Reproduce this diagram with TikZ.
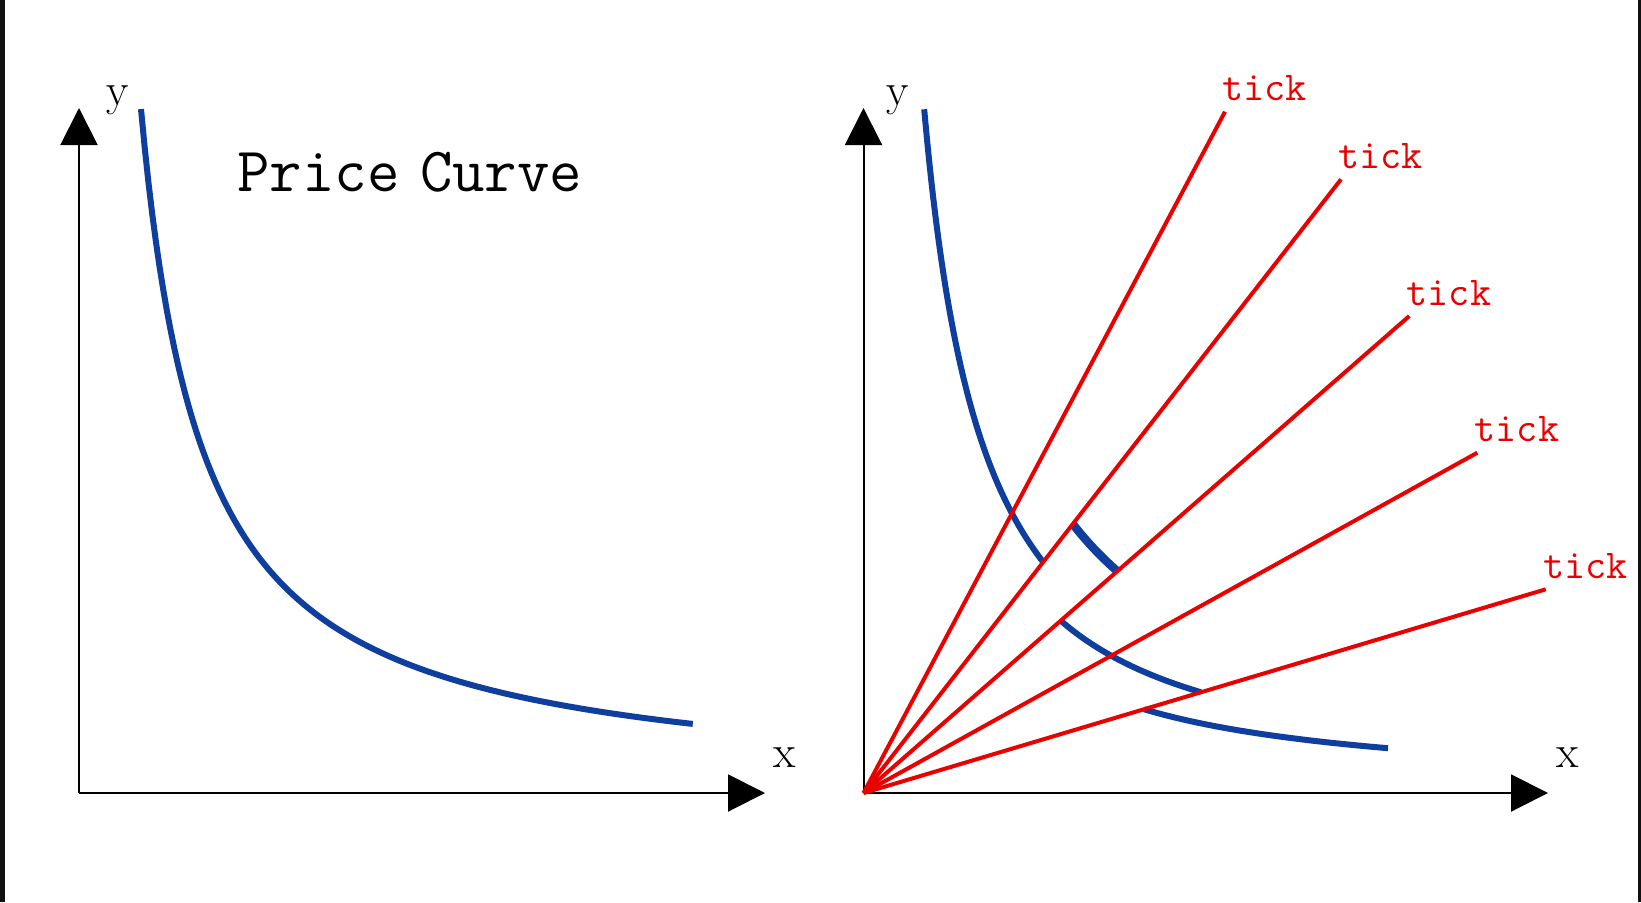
\documentclass[tikz,border=0pt]{standalone}
\usepackage{fontspec}
\usetikzlibrary{arrows.meta}
\definecolor{curveblue}{RGB}{14,62,158}
\definecolor{tickred}{RGB}{235,0,0}
\definecolor{edgebar}{RGB}{17,17,17}
\begin{document}
\begin{tikzpicture}[x=50pt,y=50pt,
  axis/.style={line width=1pt, -{Triangle[length=18.5pt,width=18.5pt]}},
  curve/.style={curveblue, line width=3pt},
  thickcurve/.style={curveblue, line width=4.2pt},
  ray/.style={tickred, line width=2pt},
  ticklabel/.style={text=tickred, font=\fontsize{20.5}{21}\selectfont\ttfamily, inner sep=0pt, anchor=base west},
  axislabel/.style={font=\fontsize{23}{24}\selectfont, inner sep=0pt, anchor=base},
  titlelabel/.style={font=\fontsize{31.5}{33}\selectfont\ttfamily, inner sep=0pt, anchor=base west},
]
\fill[white] (0,0) rectangle (16.41,9.02);
\useasboundingbox (0,0) rectangle (16.41,9.02);
\fill[edgebar] (0,0) rectangle (0.05,9.02);
\fill[edgebar] (16.38,0) rectangle (16.41,9.02);

% ---------- left panel ----------
\coordinate (O1) at (0.79,1.09);
\coordinate (Y1) at (0.79,7.94);
\coordinate (X1) at (7.65,1.09);
\begin{scope}[shift={(0.79,1.09)}]
  \draw[curve] plot[domain=0.62:6.14, samples=150] (\x,{4.24/\x});
\end{scope}
\draw[axis] (O1) -- (Y1);
\draw[axis] (O1) -- (X1);
\node[axislabel] (ly1) at (1.18,7.97) {y};
\node[axislabel] (lx1) at (7.85,1.35) {x};
\node[titlelabel] (title) at (2.37,7.103) {Price\hspace{-6pt} Curve};

% ---------- right panel ----------
\coordinate (O2) at (8.635,1.09);
\coordinate (Y2) at (8.635,7.94);
\coordinate (X2) at (15.48,1.09);
\begin{scope}[shift={(8.635,1.09)}]
  \coordinate (T1) at (3.615,6.813);
  \coordinate (T2) at (4.775,6.137);
  \coordinate (T3) at (5.458,4.770);
  \coordinate (T4) at (6.138,3.403);
  \coordinate (T5) at (6.822,2.037);
  \draw[curve] plot[domain=0.607:1.797, samples=120] (\x,{4.15/\x});
  \draw[thickcurve] plot[domain=2.093:2.538, samples=40] (\x,{5.63/\x});
  \draw[curve] plot[domain=1.972:3.374, samples=80] (\x,{3.40/\x});
  \draw[curve] plot[domain=2.805:5.245, samples=80] (\x,{2.35/\x});
\end{scope}
\draw[axis] (O2) -- (Y2);
\draw[axis] (O2) -- (X2);
\node[axislabel] (ly2) at (8.98,7.97) {y};
\node[axislabel] (lx2) at (15.68,1.35) {x};

\foreach \i in {1,...,5}{
  \draw[ray] (O2) -- (T\i);
  \node[ticklabel] (L\i) at ([xshift=-1.5pt,yshift=5.5pt]T\i) {tick};
}
\end{tikzpicture}
\end{document}
